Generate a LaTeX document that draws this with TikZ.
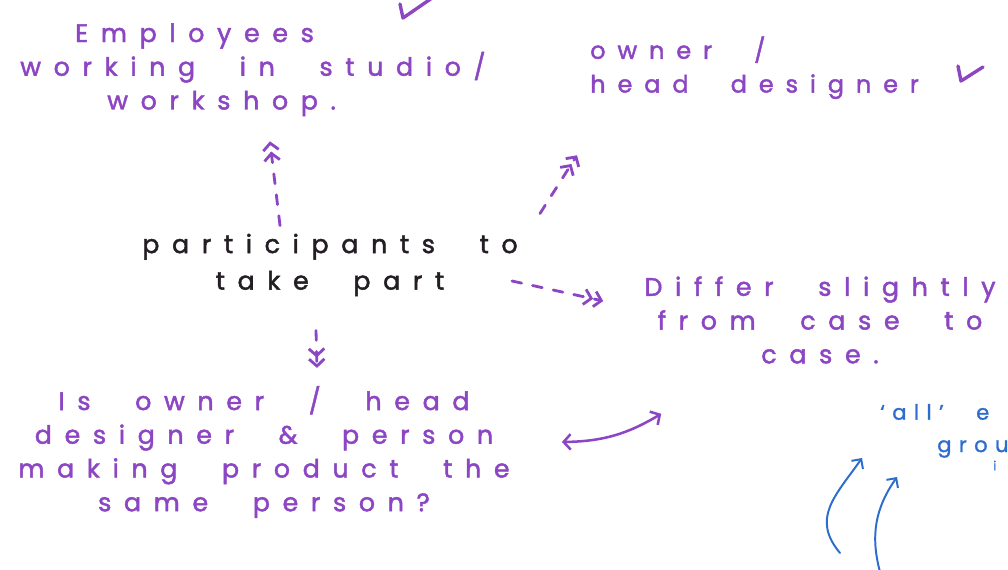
\documentclass[tikz,border=0pt]{standalone}
\usepackage{fontspec}
\usepackage{xcolor}
\usepackage{tikz}
\usetikzlibrary{calc}
\usetikzlibrary{arrows.meta}
\newfontfamily\handfont[LetterSpace=50,WordSpace=2.3,FakeBold=1.8]{Poppins}
\newfontfamily\notefont[LetterSpace=35,WordSpace=2.5,FakeBold=1.2]{Poppins}
\definecolor{inkpurple}{RGB}{140,70,195}
\definecolor{inkblue}{RGB}{45,110,205}
\definecolor{inkblack}{RGB}{35,30,35}
\tikzstyle{handnode}=[inkpurple, shape=rectangle, inner sep=0pt, font=\handfont\fontsize{18}{24}\selectfont]
\tikzstyle{topicnode}=[inkblack, shape=rectangle, inner sep=0pt, align=center, font=\handfont\fontsize{18}{26}\selectfont]
\tikzstyle{notenode}=[inkblue, shape=rectangle, inner sep=0pt, align=left, font=\notefont\fontsize{15}{13}\selectfont]
\tikzstyle{dasharrow}=[inkpurple, line width=2pt, dash pattern=on 7pt off 8pt, line cap=round, -{Straight Barb[length=5pt, width=11pt] Straight Barb[length=5pt, width=11pt]}]
\tikzstyle{linkarrow}=[inkpurple, line width=1.8pt, line cap=round, {Straight Barb[length=5pt, width=11pt]}-{Straight Barb[length=5pt, width=11pt]}]
\tikzstyle{notearrow}=[inkblue, line width=1.4pt, line cap=round, -{Straight Barb[length=5pt, width=10pt]}]
\tikzstyle{tick}=[inkpurple, line width=2.4pt, line cap=round, line join=round]

\begin{document}
\begin{tikzpicture}
\fill [white] (0,0) rectangle (25.2,-14.225);
\useasboundingbox (0,0) rectangle (25.2,-14.225);

\node [handnode, align=left, anchor=north west] (employees) at (0.5,-0.575) {\hspace*{1.375cm}Employees\\ working in studio/\\ \hspace*{2.175cm}workshop.};
\node [handnode, align=left, anchor=north west, font=\handfont\fontsize{17}{24}\selectfont] (owner) at (14.75,-0.9) {owner /\\ head designer};
\node [topicnode] (participants) at (8.25,-6.625) {participants to\\ take part};
\node [handnode, align=center] (differ) at (20.5,-8.0) {Differ slightly\\ from case to\\ case.};
\node [handnode, align=center] (sameperson) at (6.6,-11.3) {Is owner / head\\ designer \& person\\ making product the\\ same person?};
\node [notenode, anchor=west] (allnote) at (22.0,-10.3) {‘all’ e};
\node [notenode, anchor=north west] (groupnote) at (23.425,-11.0) {grou\\ \hspace*{1.4cm}{\small i}};

% ticks
\draw [tick] (10.0,-0.1) -- (10.075,-0.45) -- (10.8,0.05);
\draw [tick] (23.95,-1.65) -- (24.025,-2.025) -- (24.575,-1.675);

\draw [dasharrow] ($(participants.north)+(-1.25,0.2)$) -- ($(employees.south)+(0.425,-0.625)$);
\draw [dasharrow] ($(participants.north east)+(0.55,0.5)$) -- ($(owner.south west)+(-0.325,-1.4)$);
\draw [dasharrow] ($(participants.east)+(-0.15,-0.4)$) -- ($(differ.west)+(-1.025,0.475)$);
\draw [dasharrow] ($(participants.south)+(-0.35,-0.85)$) -- ($(sameperson.north)+(1.325,0.45)$);
\draw [linkarrow] ($(sameperson.east)+(1.3,0.25)$) to[bend right=15] ($(differ.south west)+(0.425,-1.25)$);

\coordinate (allstart) at (21.0,-13.825);
\coordinate (groupstart) at (22.0,-14.3);
\draw [notearrow] (allstart) to[out=130, in=235, looseness=1.2] ($(allnote.west)+(-0.45,-1.15)$);
\draw [notearrow] (groupstart) to[out=105, in=235] ($(groupnote.north west)+(-1.0,-0.925)$);
\end{tikzpicture}
\end{document}
